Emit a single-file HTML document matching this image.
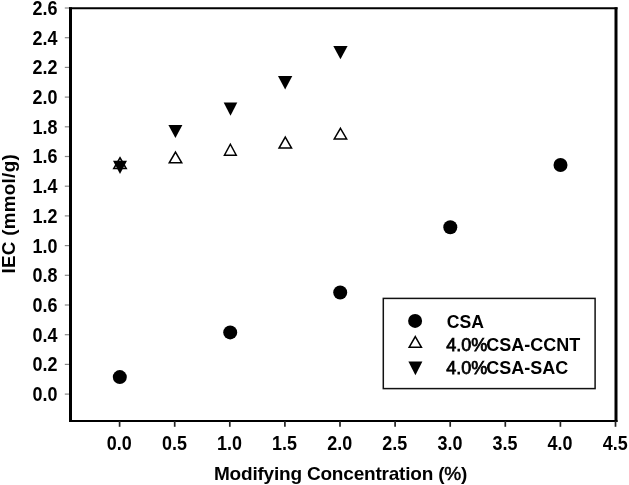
<!DOCTYPE html>
<html><head><meta charset="utf-8"><style>
html,body{margin:0;padding:0;background:#fff;}
svg{display:block;font-family:"Liberation Sans",sans-serif;font-weight:bold;font-size:18px;fill:#000;filter:blur(0.45px) grayscale(1);}
</style></head><body>
<svg width="629" height="485" viewBox="0 0 629 485">
<line x1="69" y1="8.2" x2="617.5" y2="8.2" stroke="#000" stroke-width="2"/>
<line x1="69" y1="420.9" x2="617.5" y2="420.9" stroke="#000" stroke-width="2"/>
<line x1="70.5" y1="7.2" x2="70.5" y2="421.9" stroke="#000" stroke-width="3"/>
<line x1="616" y1="7.2" x2="616" y2="421.9" stroke="#000" stroke-width="3"/>
<line x1="64.8" y1="394.10" x2="69" y2="394.10" stroke="#888" stroke-width="1.2"/>
<text transform="translate(57.5 401.00) scale(0.93 1)" text-anchor="end" font-size="19.3">0.0</text>
<line x1="64.8" y1="364.40" x2="69" y2="364.40" stroke="#888" stroke-width="1.2"/>
<text transform="translate(57.5 371.30) scale(0.93 1)" text-anchor="end" font-size="19.3">0.2</text>
<line x1="64.8" y1="334.70" x2="69" y2="334.70" stroke="#888" stroke-width="1.2"/>
<text transform="translate(57.5 341.60) scale(0.93 1)" text-anchor="end" font-size="19.3">0.4</text>
<line x1="64.8" y1="305.00" x2="69" y2="305.00" stroke="#888" stroke-width="1.2"/>
<text transform="translate(57.5 311.90) scale(0.93 1)" text-anchor="end" font-size="19.3">0.6</text>
<line x1="64.8" y1="275.30" x2="69" y2="275.30" stroke="#888" stroke-width="1.2"/>
<text transform="translate(57.5 282.20) scale(0.93 1)" text-anchor="end" font-size="19.3">0.8</text>
<line x1="64.8" y1="245.60" x2="69" y2="245.60" stroke="#888" stroke-width="1.2"/>
<text transform="translate(57.5 252.50) scale(0.93 1)" text-anchor="end" font-size="19.3">1.0</text>
<line x1="64.8" y1="215.90" x2="69" y2="215.90" stroke="#888" stroke-width="1.2"/>
<text transform="translate(57.5 222.80) scale(0.93 1)" text-anchor="end" font-size="19.3">1.2</text>
<line x1="64.8" y1="186.20" x2="69" y2="186.20" stroke="#888" stroke-width="1.2"/>
<text transform="translate(57.5 193.10) scale(0.93 1)" text-anchor="end" font-size="19.3">1.4</text>
<line x1="64.8" y1="156.50" x2="69" y2="156.50" stroke="#888" stroke-width="1.2"/>
<text transform="translate(57.5 163.40) scale(0.93 1)" text-anchor="end" font-size="19.3">1.6</text>
<line x1="64.8" y1="126.80" x2="69" y2="126.80" stroke="#888" stroke-width="1.2"/>
<text transform="translate(57.5 133.70) scale(0.93 1)" text-anchor="end" font-size="19.3">1.8</text>
<line x1="64.8" y1="97.10" x2="69" y2="97.10" stroke="#888" stroke-width="1.2"/>
<text transform="translate(57.5 104.00) scale(0.93 1)" text-anchor="end" font-size="19.3">2.0</text>
<line x1="64.8" y1="67.40" x2="69" y2="67.40" stroke="#888" stroke-width="1.2"/>
<text transform="translate(57.5 74.30) scale(0.93 1)" text-anchor="end" font-size="19.3">2.2</text>
<line x1="64.8" y1="37.70" x2="69" y2="37.70" stroke="#888" stroke-width="1.2"/>
<text transform="translate(57.5 44.60) scale(0.93 1)" text-anchor="end" font-size="19.3">2.4</text>
<line x1="64.8" y1="8.00" x2="69" y2="8.00" stroke="#888" stroke-width="1.2"/>
<text transform="translate(57.5 14.90) scale(0.93 1)" text-anchor="end" font-size="19.3">2.6</text>
<line x1="119.60" y1="421" x2="119.60" y2="426.8" stroke="#222" stroke-width="1.7"/>
<text transform="translate(119.30 450.0) scale(0.93 1)" text-anchor="middle" font-size="19.3">0.0</text>
<line x1="174.70" y1="421" x2="174.70" y2="426.8" stroke="#222" stroke-width="1.7"/>
<text transform="translate(174.40 450.0) scale(0.93 1)" text-anchor="middle" font-size="19.3">0.5</text>
<line x1="229.80" y1="421" x2="229.80" y2="426.8" stroke="#222" stroke-width="1.7"/>
<text transform="translate(229.50 450.0) scale(0.93 1)" text-anchor="middle" font-size="19.3">1.0</text>
<line x1="284.90" y1="421" x2="284.90" y2="426.8" stroke="#222" stroke-width="1.7"/>
<text transform="translate(284.60 450.0) scale(0.93 1)" text-anchor="middle" font-size="19.3">1.5</text>
<line x1="340.00" y1="421" x2="340.00" y2="426.8" stroke="#222" stroke-width="1.7"/>
<text transform="translate(339.70 450.0) scale(0.93 1)" text-anchor="middle" font-size="19.3">2.0</text>
<line x1="395.10" y1="421" x2="395.10" y2="426.8" stroke="#222" stroke-width="1.7"/>
<text transform="translate(394.80 450.0) scale(0.93 1)" text-anchor="middle" font-size="19.3">2.5</text>
<line x1="450.20" y1="421" x2="450.20" y2="426.8" stroke="#222" stroke-width="1.7"/>
<text transform="translate(449.90 450.0) scale(0.93 1)" text-anchor="middle" font-size="19.3">3.0</text>
<line x1="505.30" y1="421" x2="505.30" y2="426.8" stroke="#222" stroke-width="1.7"/>
<text transform="translate(505.00 450.0) scale(0.93 1)" text-anchor="middle" font-size="19.3">3.5</text>
<line x1="560.40" y1="421" x2="560.40" y2="426.8" stroke="#222" stroke-width="1.7"/>
<text transform="translate(560.10 450.0) scale(0.93 1)" text-anchor="middle" font-size="19.3">4.0</text>
<line x1="615.50" y1="421" x2="615.50" y2="426.8" stroke="#222" stroke-width="1.7"/>
<text transform="translate(615.20 450.0) scale(0.93 1)" text-anchor="middle" font-size="19.3">4.5</text>
<text x="214" y="479.6" font-size="19" textLength="253.3" lengthAdjust="spacing">Modifying Concentration (<tspan font-weight="normal" stroke="#000" stroke-width="0.5">%</tspan>)</text>
<text transform="translate(15.4 273.5) rotate(-90)" x="0" y="0" font-size="18.8" textLength="119.2" lengthAdjust="spacing">IEC (mmol/g)</text>
<circle cx="119.80" cy="377.10" r="7" fill="#000"/>
<circle cx="230.20" cy="332.40" r="7" fill="#000"/>
<circle cx="340.20" cy="292.50" r="7" fill="#000"/>
<circle cx="450.30" cy="227.30" r="7" fill="#000"/>
<circle cx="560.50" cy="165.00" r="7" fill="#000"/>
<polygon points="120.00,157.75 126.25,168.55 113.75,168.55" fill="#fff" stroke="#000" stroke-width="1.5" stroke-linejoin="miter"/>
<polygon points="175.50,152.05 181.75,162.85 169.25,162.85" fill="#fff" stroke="#000" stroke-width="1.5" stroke-linejoin="miter"/>
<polygon points="230.35,144.25 236.25,155.25 224.45,155.25" fill="#fff" stroke="#000" stroke-width="1.5" stroke-linejoin="miter"/>
<polygon points="285.30,137.05 291.55,148.05 279.05,148.05" fill="#fff" stroke="#000" stroke-width="1.5" stroke-linejoin="miter"/>
<polygon points="340.45,128.35 346.65,138.95 334.25,138.95" fill="#fff" stroke="#000" stroke-width="1.5" stroke-linejoin="miter"/>
<polygon points="113.00,160.70 127.00,160.70 120.00,173.90" fill="#000"/>
<polygon points="168.40,124.90 182.40,124.90 175.40,137.90" fill="#000"/>
<polygon points="223.70,102.40 237.30,102.40 230.50,115.70" fill="#000"/>
<polygon points="278.00,76.00 292.30,76.00 285.15,89.40" fill="#000"/>
<polygon points="333.30,46.00 347.60,46.00 340.45,59.20" fill="#000"/>
<rect x="383.3" y="298.4" width="211.8" height="90.2" fill="#fff" stroke="#111" stroke-width="1.5"/>
<circle cx="415.10" cy="320.90" r="7" fill="#000"/>
<polygon points="415.30,336.55 421.45,347.35 409.15,347.35" fill="#fff" stroke="#000" stroke-width="1.5" stroke-linejoin="miter"/>
<polygon points="408.40,361.50 422.40,361.50 415.40,375.20" fill="#000"/>
<text x="446.8" y="328.2" textLength="37.2" lengthAdjust="spacingAndGlyphs">CSA</text>
<text x="446.3" y="350.9"><tspan font-weight="normal" stroke="#000" stroke-width="0.75">4.0%</tspan><tspan dx="-1">CSA-CCNT</tspan></text>
<text x="446.3" y="373.5"><tspan font-weight="normal" stroke="#000" stroke-width="0.75">4.0%</tspan><tspan dx="-1">CSA-SAC</tspan></text>
</svg>
</body></html>
